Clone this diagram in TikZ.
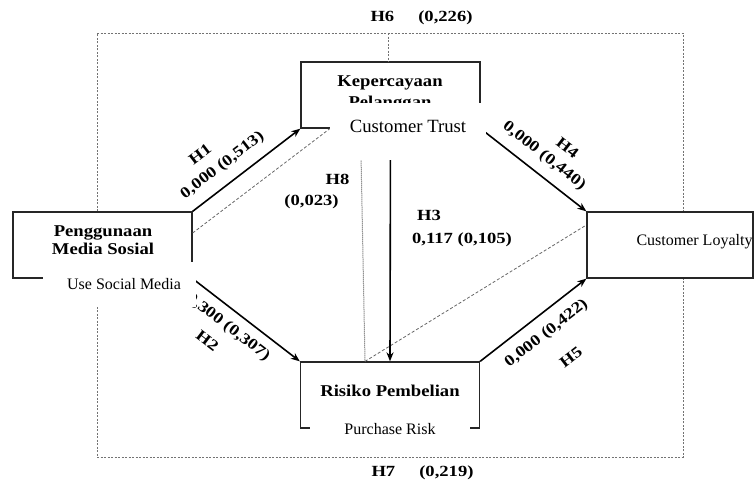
\documentclass[tikz,border=0pt]{standalone}
\usepackage{fontspec}
\setmainfont{Liberation Serif}
\newfontfamily\idfont[FakeStretch=1.13]{Liberation Serif}
\newfontfamily\hypfont[FakeStretch=1.2]{Liberation Serif}
\usetikzlibrary{positioning,calc,arrows.meta}

\begin{document}
\begin{tikzpicture}[x=1pt, y=-1pt, >={Stealth[length=9pt, width=7pt]}, box/.style = {draw=black!85, line width=1.3pt, minimum width=179pt, minimum height=66pt, inner sep=0pt}, idtxt/.style = {font=\idfont\bfseries\fontsize{16.5}{18.3}\selectfont, align=center, inner sep=0pt}, entxt/.style = {font=\fontsize{16}{18}\selectfont, fill=white, inner sep=0pt, anchor=base}, hyp/.style = {font=\hypfont\bfseries\fontsize{15.5}{18}\selectfont, inner sep=0pt}, arr/.style = {->, line width=1.6pt}, outer/.style = {draw=black!55, line width=0.8pt, dash pattern=on 2pt off 1.5pt}, med/.style = {draw=black!60, line width=0.8pt, dash pattern=on 3pt off 2pt}, dots/.style = {draw=black!65, line width=1pt, dash pattern=on 1pt off 1pt}]

\useasboundingbox (0,0) rectangle (755,483);

% variables
\node[box] (pms) at (102.5,245) {};
\node[box] (kp) at (390.5,95) {};
\node[box] (rp) at (390,395) {};
\node[box, minimum width=166pt] (cl) at (670,245) {};

\node[idtxt] (pmstxt) at (103,240.4) {Penggunaan\\Media Sosial};
\node[idtxt] (kptxt) at (390,93.5) {Kepercayaan\\[2.6pt]Pelanggan};
\node[idtxt, anchor=base] (rptxt) at (390,396) {Risiko Pembelian};
\node[entxt, fill=none] (cltxt) at (694.5,245) {Customer Loyalty};

% H6 / H7 around the outside
\coordinate (top) at (388,33);
\coordinate (bot) at (388,457);
\draw[outer] ([xshift=-5.5pt]pms.north) |- (top) -| ([xshift=13pt]cl.north);
\draw[outer] (top) -- (top |- kp.north);
\draw[outer] ([xshift=-5.5pt]pms.south) |- (bot) -| ([xshift=13pt]cl.south);

% H8
\draw[med] ([yshift=12pt]pms.east) -- ([xshift=29.5pt]kp.south west);
\draw[dots] ([xshift=-30pt]kp.south) -- ([xshift=-25pt]rp.north);
\draw[med] ([xshift=-25pt]rp.north) -- ([yshift=20pt]cl.west);

% direct paths
\path[arr]
 (pms.north east) edge (kp.south west)
 (pms.south east) edge (rp.north west)
 (kp.south) edge (rp.north)
 (kp.south east) edge (cl.north west)
 (rp.north east) edge (cl.south west);

\node[hyp, rotate=37.5] (h1) at (200,154.5) {H1};
\node[hyp, rotate=37.5] (h1v) at (222.5,165.5) {0,000 (0,513)};
\node[hyp, rotate=-37.5] (h2) at (207.5,340.5) {H2};
\node[hyp, rotate=-37.5] (h2v) at (228,327.3) {0,300 (0,307)};
\node[hyp] (h3) at (429,215) {H3};
\node[hyp] (h3v) at (462,239.5) {0,117 (0,105)};
\node[hyp, rotate=-38] (h4) at (567.5,147.5) {H4};
\node[hyp, rotate=-38] (h4v) at (544,156) {0,000 (0,440)};
\node[hyp, rotate=38] (h5) at (571,357) {H5};
\node[hyp, rotate=38] (h5v) at (546.5,333.5) {0,000 (0,422)};
\node[hyp] (h6) at (421.5,17.5) {H6\hspace{24pt}(0,226)};
\node[hyp] (h7) at (422.5,473) {H7\hspace{24pt}(0,219)};
\node[hyp] (h8) at (337.5,179) {H8};
\node[hyp] (h8v) at (311.5,202) {(0,023)};

% english captions pasted over the boxes
\node[entxt, text height=27pt, text depth=18pt, minimum width=153pt] (pmslbl) at (119.5,289) {\hspace*{9pt}Use Social Media};
\node[entxt, font=\fontsize{18.7}{22}\selectfont, text height=29pt, text depth=28pt, minimum width=156pt] (kplbl) at (408,132) {Customer Trust};
\node[entxt, text height=19pt, text depth=18pt, minimum width=160pt] (rplbl) at (390,434) {Purchase Risk};
\end{tikzpicture}
\end{document}
